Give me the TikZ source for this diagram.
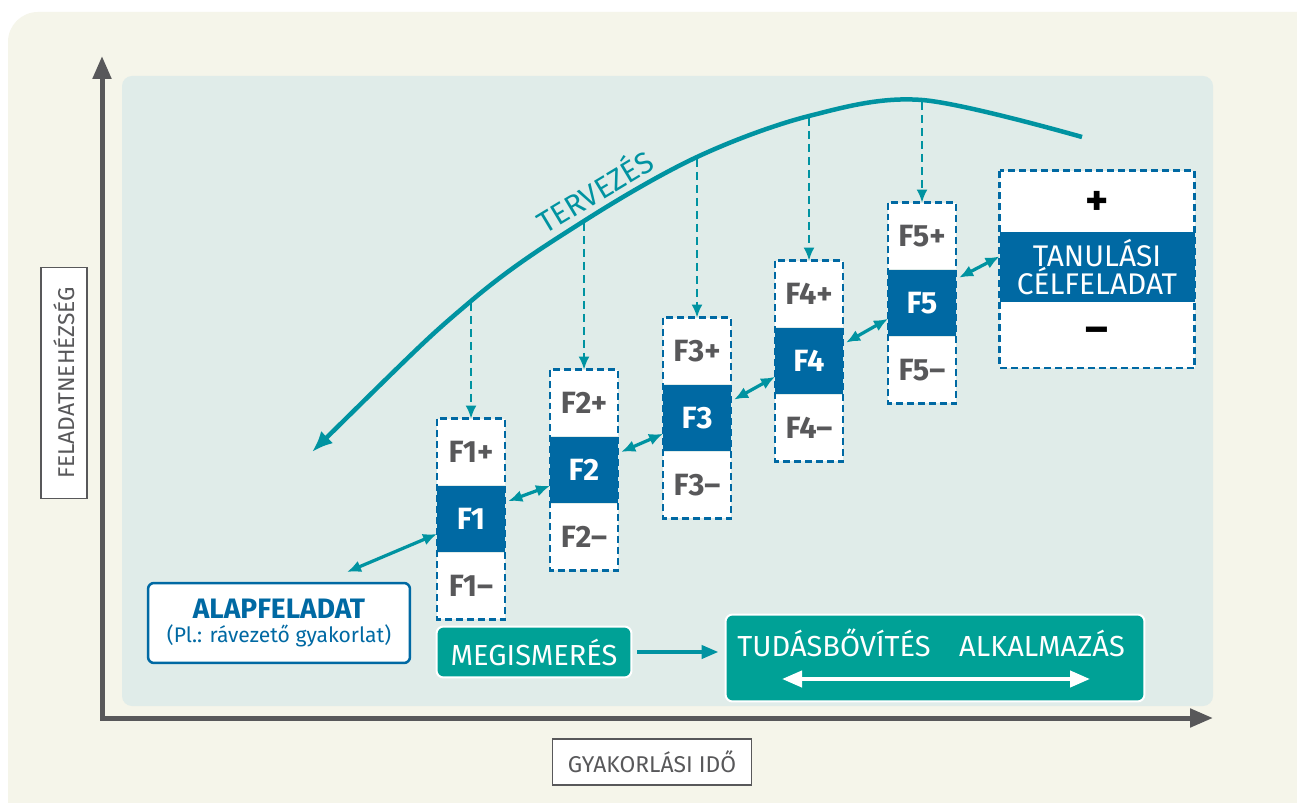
\documentclass[tikz,border=0pt]{standalone}
\usepackage{fontspec}
\setmainfont{Fira Sans}
\usetikzlibrary{arrows.meta}

\definecolor{bgbeige}{HTML}{F5F5EA}
\definecolor{panel}{HTML}{E0ECE9}
\definecolor{axisgray}{HTML}{58585A}
\definecolor{fblue}{HTML}{0069A3}
\definecolor{curveteal}{HTML}{0093A1}
\definecolor{boxgreen}{HTML}{00A196}

\tikzset{
  fsect/.style={minimum width=1.36cm, minimum height=1.34cm, inner sep=0pt, outer sep=0pt, font=\fontsize{17.5}{17.5}\selectfont\bfseries},
  fmid/.style={fsect, fill=fblue, text=white},
  fside/.style={fsect, fill=white, text=axisgray},
  dashbox/.style={draw=fblue, line width=0.05cm, dash pattern=on 0.14cm off 0.08cm},
  dbl/.style={curveteal, line width=0.065cm, {Latex[length=0.28cm,width=0.24cm]}-{Latex[length=0.28cm,width=0.24cm]}},
  drop/.style={curveteal, line width=0.04cm, dash pattern=on 0.16cm off 0.1cm, -{Latex[length=0.26cm,width=0.22cm]}},
  greenbox/.style={fill=boxgreen, draw=white, line width=0.04cm, rounded corners=0.14cm, text=white, font=\fontsize{16.5}{17}\selectfont},
  axlabel/.style={draw=axisgray, fill=white, line width=0.03cm, text=axisgray, font=\fontsize{13}{13}\selectfont, inner sep=0pt},
}

\begin{document}
\begin{tikzpicture}[x=0.02cm,y=-0.02cm]
  \useasboundingbox (0,0) rectangle (1297,803);
  \fill[white] (0,0) rectangle (1297,803);
  \fill[bgbeige, rounded corners=0.6cm] (8,12) rectangle (1340,850);
  \fill[panel, rounded corners=0.2cm] (122,76) rectangle (1213,706);

  % axes
  \draw[axisgray, line width=0.1cm, {Triangle[length=0.46cm,width=0.36cm]}-{Triangle[length=0.46cm,width=0.36cm]}] (102,56) -- (102,718) -- (1213,718);
  \node[axlabel, rotate=90, minimum width=4.62cm, minimum height=0.92cm] (ylab) at (64,383) {FELADATNEHÉZSÉG};
  \node[axlabel, minimum width=3.98cm, minimum height=0.92cm] (xlab) at (652,762) {GYAKORLÁSI IDŐ};

  % planning curve
  \coordinate (c1) at (471,301);
  \coordinate (c2) at (584,221);
  \coordinate (c3) at (697,157);
  \coordinate (c4) at (809,116);
  \coordinate (c5) at (922,100);
  \draw[curveteal, line width=0.09cm, {Latex[length=0.42cm,width=0.34cm]}-] plot[smooth, tension=0.55] coordinates {(312,452) (c1) (c2) (c3) (c4) (c5) (1082,137)};
  \node[text=curveteal, rotate=31, font=\fontsize{17}{17}\selectfont] (terv) at (594,190) {TERVEZÉS};

  % task levels
  \foreach \n/\x/\y in {1/471/519, 2/584/470, 3/697/418, 4/809/361, 5/922/303} {
    \node[fside] (Fp\n) at (\x,\y-67) {F\n+};
    \node[fside] (Fm\n) at (\x,\y+67) {F\n–};
    \draw[dashbox] (Fp\n.north west) rectangle (Fm\n.south east);
    \node[fmid] (F\n) at (\x,\y) {F\n};
    \draw[drop, shorten <=0.04cm] (c\n) -- (Fp\n.north);
  }

  % target task
  \node[fside, minimum width=3.9cm, minimum height=1.3cm, font=\fontsize{25}{25}\selectfont\bfseries, text=black] (Tp) at (1097,203) {+};
  \node[fside, minimum width=3.9cm, minimum height=1.32cm, font=\fontsize{25}{25}\selectfont\bfseries, text=black] (Tm) at (1097,335) {–};
  \draw[dashbox] (Tp.north west) rectangle (Tm.south east);
  \node[fmid, minimum width=3.9cm, minimum height=1.4cm, font=\fontsize{17}{16}\selectfont, align=center] (T) at (1097,267) {TANULÁSI\\CÉLFELADAT};

  % base task
  \node[draw=fblue, fill=white, line width=0.05cm, rounded corners=0.12cm, minimum width=5.24cm, minimum height=1.6cm, align=center, text=fblue, font=\fontsize{12}{14}\selectfont] (alap) at (279,623) {{\fontsize{16}{18}\selectfont\bfseries ALAPFELADAT}\\(Pl.: rávezető gyakorlat)};
  \coordinate (a0) at (347,572);
  \draw[dbl] (a0) -- ([yshift=-8.5pt]F1.west);
  \foreach \a/\b in {1/2,2/3,3/4,4/5}
    \draw[dbl, shorten <=2pt] ([yshift=9.5pt]F\a.east) -- ([yshift=-9pt]F\b.west);
  \draw[dbl, shorten <=2pt] ([yshift=13.5pt]F5.east) -- ([yshift=6pt]T.west);

  % phases
  \node[greenbox, minimum width=3.9cm, minimum height=1.02cm] (megism) at (534,652) {MEGISMERÉS};
  \node[greenbox, minimum width=8.38cm, minimum height=1.74cm] (tudas) at (935,658) {};
  \node[text=white, font=\fontsize{16.5}{17}\selectfont] (tb) at (834,643) {TUDÁSBŐVÍTÉS};
  \node[text=white, font=\fontsize{16.5}{17}\selectfont] (alk) at (1042,643) {ALKALMAZÁS};
  \coordinate (wl) at (782,679);
  \coordinate (wr) at (1090,679);
  \draw[white, line width=0.08cm, {Triangle[length=0.4cm,width=0.32cm]}-{Triangle[length=0.4cm,width=0.32cm]}] (wl) -- (wr);
  \draw[curveteal, line width=0.08cm, -{Triangle[length=0.34cm,width=0.26cm]}, shorten <=0.1cm, shorten >=0.12cm] (megism.east) -- (megism.east -| tudas.west);
\end{tikzpicture}
\end{document}
